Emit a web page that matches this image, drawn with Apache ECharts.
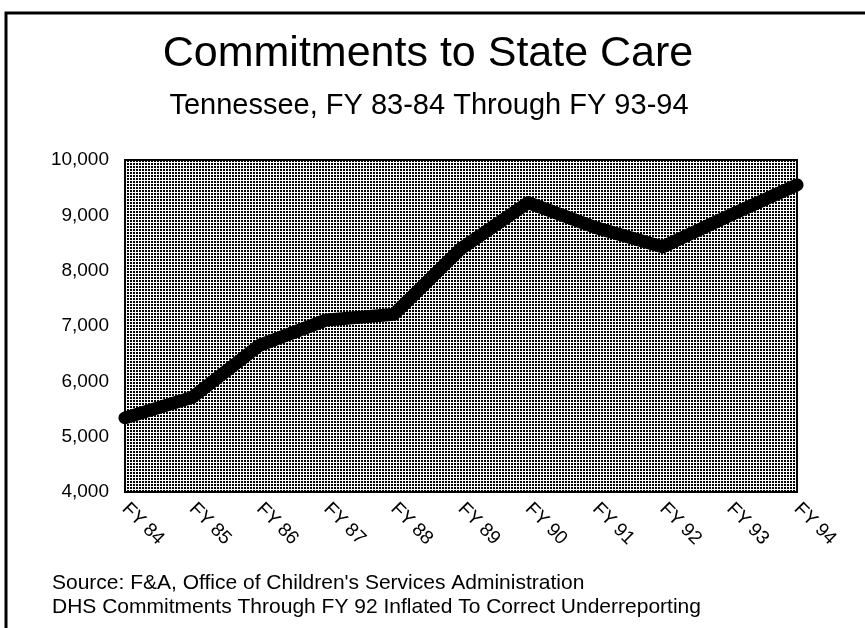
<!DOCTYPE html>
<html>
<head>
<meta charset="utf-8">
<script src="https://cdn.jsdelivr.net/npm/echarts@6/dist/echarts.min.js"></script>
<style>
  html, body { margin: 0; padding: 0; background: #fff; }
  #chart { width: 865px; height: 628px; }
</style>
</head>
<body>
<div id="chart"></div>
<script>
// fiscal years and commitments
const years = ["FY 84", "FY 85", "FY 86", "FY 87", "FY 88", "FY 89", "FY 90", "FY 91", "FY 92", "FY 93", "FY 94"];
const commitments = [5340, 5710, 6650, 7110, 7210, 8400, 9230, 8780, 8430, 9000, 9550];
const yTicks = [4000, 5000, 6000, 7000, 8000, 9000, 10000];

const font = "Liberation Sans, Arial, sans-serif";

// halftone fill for the plot background
const tile = document.createElement("canvas");
tile.width = 3;
tile.height = 3;
const tctx = tile.getContext("2d");
tctx.fillStyle = "#ffffff";
tctx.fillRect(0, 0, 3, 3);
tctx.fillStyle = "#000000";
tctx.fillRect(1, 1, 2, 2);

const chart = echarts.init(document.getElementById("chart"));

const option = {
  backgroundColor: "#fff",
  animation: false,
  title: [
    {
      text: "Commitments to State Care",
      left: 423,
      top: 28,
      textAlign: "center",
      textStyle: { fontFamily: font, fontSize: 43, fontWeight: "normal", color: "#000" },
    },
    {
      text: "Tennessee, FY 83-84 Through FY 93-94",
      left: 424,
      top: 86,
      textAlign: "center",
      textStyle: { fontFamily: font, fontSize: 29, fontWeight: "normal", color: "#000" },
    },
  ],
  grid: {
    left: 125,
    right: 68,
    top: 160,
    bottom: 136,
    show: true,
    backgroundColor: { image: tile, repeat: "repeat" },
    borderColor: "#000",
    borderWidth: 2,
  },
  xAxis: {
    type: "category",
    data: years,
    boundaryGap: false,
    axisLine: { show: false },
    axisTick: { show: false },
    axisLabel: {
      rotate: -45,
      margin: 14,
      interval: 0,
      fontFamily: font,
      fontSize: 19,
      color: "#000",
    },
  },
  yAxis: {
    type: "value",
    min: yTicks[0],
    max: yTicks[yTicks.length - 1],
    interval: 1000,
    axisLine: { show: false },
    axisTick: { show: false },
    splitLine: { show: false },
    axisLabel: {
      margin: 16,
      fontFamily: font,
      fontSize: 19,
      color: "#000",
      formatter: (v) => v.toLocaleString("en-US"),
    },
  },
  series: [
    {
      type: "line",
      data: commitments,
      symbol: "none",
      lineStyle: { color: "#000", width: 13, cap: "round", join: "round" },
    },
  ],
  graphic: [
    {
      type: "polyline",
      shape: { points: [[6, 628], [6, 13], [865, 13]] },
      style: { stroke: "#000", lineWidth: 3, fill: null },
    },
    {
      type: "text",
      left: 52,
      top: 573,
      style: {
        text: "Source: F&A, Office of Children's Services Administration",
        font: "21px " + font,
        fill: "#000",
      },
    },
    {
      type: "text",
      left: 52,
      top: 597,
      style: {
        text: "DHS Commitments Through FY 92 Inflated To Correct Underreporting",
        font: "21px " + font,
        fill: "#000",
      },
    },
  ],
};

chart.setOption(option);
window.addEventListener("resize", chart.resize);
</script>
</body>
</html>
